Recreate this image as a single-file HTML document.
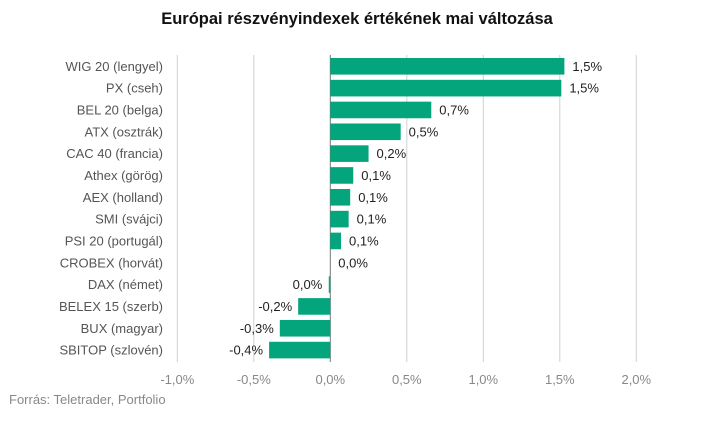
<!DOCTYPE html>
<html><head><meta charset="utf-8"><style>
body{margin:0;background:#fff;font-family:"Liberation Sans",sans-serif;}
svg text{font-family:"Liberation Sans",sans-serif;}
</style></head><body>
<svg width="713" height="417" xmlns="http://www.w3.org/2000/svg">
<text x="357" y="24" text-anchor="middle" font-size="16.5" font-weight="bold" fill="#111">Európai részvényindexek értékének mai változása</text>
<g id="grid"></g><g id="bars"></g><g id="labels"></g>
<text x="9" y="404" font-size="13" fill="#888">Forrás: Teletrader, Portfolio</text>
</svg>
<script>
const categories=["WIG 20 (lengyel)","PX (cseh)","BEL 20 (belga)","ATX (osztrák)","CAC 40 (francia)","Athex (görög)","AEX (holland)","SMI (svájci)","PSI 20 (portugál)","CROBEX (horvát)","DAX (német)","BELEX 15 (szerb)","BUX (magyar)","SBITOP (szlovén)"];
const values=[1.53,1.51,0.66,0.46,0.25,0.15,0.13,0.12,0.07,0.0,-0.01,-0.21,-0.33,-0.40];
const valueLabels=["1,5%","1,5%","0,7%","0,5%","0,2%","0,1%","0,1%","0,1%","0,1%","0,0%","0,0%","-0,2%","-0,3%","-0,4%"];
const ticks=[-1,-0.5,0,0.5,1,1.5,2];
const tickLabels=["-1,0%","-0,5%","0,0%","0,5%","1,0%","1,5%","2,0%"];
const NS="http://www.w3.org/2000/svg";
const x=v=>330.3+v*153;
const yc=i=>66.3+i*21.83;
function mk(t,a,p){const e=document.createElementNS(NS,t);for(const k in a)e.setAttribute(k,a[k]);p.appendChild(e);return e;}
const grid=document.getElementById('grid'),bars=document.getElementById('bars'),labels=document.getElementById('labels');
ticks.forEach((t,i)=>{
 const l=mk('line',{x1:x(t),x2:x(t),y1:55,y2:362,stroke:t===0?'#777':'#d0d0d0','stroke-width':1},grid);
 
 
 const tx=mk('text',{x:x(t),y:384,'text-anchor':'middle','font-size':13,fill:'#888'},grid);
 tx.textContent=tickLabels[i];
 
 
});
categories.forEach((c,i)=>{
 const v=values[i],y=yc(i);
 const r=mk('rect',{x:Math.min(x(0),x(v)),y:y-8.3,width:Math.max(Math.abs(x(v)-x(0)),v===0?0:1),height:16.6,fill:'#04a57d'},bars);
 
 
 const cl=mk('text',{x:163,y:y+4.5,'text-anchor':'end','font-size':13,fill:'#555'},labels);
 cl.textContent=c;
 
 
 const vl=mk('text',{x:v>=0?x(v)+8:x(v)-6,y:y+4.5,'text-anchor':v>=0?'start':'end','font-size':13,fill:'#222'},labels);
 if(i===10){vl.setAttribute('x',x(0)-8);vl.setAttribute('text-anchor','end');}
 vl.textContent=valueLabels[i];
 
 
});
</script>
</body></html>
